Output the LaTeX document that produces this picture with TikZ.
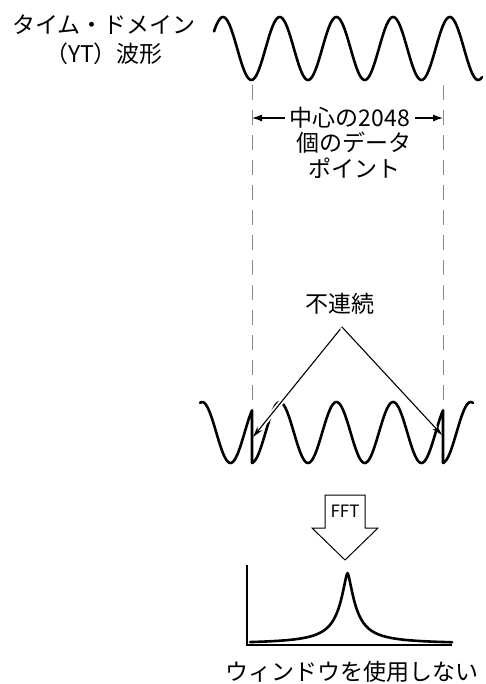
\documentclass[tikz,border=0pt]{standalone}
\usepackage{fontspec}
\setmainfont{Noto Sans CJK JP}
\usepackage{tikz}
\usetikzlibrary{arrows.meta, positioning, calc}
\definecolor{guidegray}{HTML}{8a8a8a}

\begin{document}
\begin{tikzpicture}[
    x=1pt, y=-1pt,
    declare function={
        top(\t)=48.5-31.5*cos((\t-223)*6.3492);
        low(\t)=432.5-30.5*cos((\t-223)*6.3492);
        peak(\t)=644-71/(1+(abs(\t-347.5)/9)*sqrt(abs(\t-347.5)/9));
    },
    label/.style={font=\fontsize{23}{27}\selectfont, inner sep=2pt, align=center},
    wave/.style={line width=2.6pt, line join=round, line cap=round},
    guide/.style={draw=guidegray, line width=1pt, dash pattern=on 15pt off 10pt},
    dimarrow/.style={-{Latex[length=10pt, width=7pt]}, line width=1.2pt},
    pointer/.style={-{Stealth[length=11pt, width=6pt]}, line width=1.1pt,
                    preaction={draw=white, line width=5pt, -, shorten >=9pt}},
    axis/.style={line width=1.5pt},
]
    \useasboundingbox (0,0) rectangle (486,684);

    % time-domain record
    \node[label, font=\fontsize{23}{29}\selectfont] (ytlabel) at (104,40)
        {タイム・ドメイン\\（YT）波形};
    \draw[wave] plot[domain=214:482, samples=200] (\x, {top(\x)});

    % edges of the 2048-point window
    \coordinate (gltop) at (252,85);
    \coordinate (glbot) at (252,400);
    \coordinate (grtop) at (443,85);
    \coordinate (grbot) at (443,400);
    \draw[guide] (gltop) -- (glbot);
    \draw[guide] (grtop) -- (grbot);

    \node[label, inner xsep=5pt] (num) at (350,118) {中心の2048};
    \node[label, font=\fontsize{23}{26}\selectfont] (pts) at (354,155) {個のデータ\\ポイント};
    \draw[dimarrow] (num.west) -- (num.west -| gltop);
    \draw[dimarrow] (num.east) -- (num.east -| grtop);

    % repeated record with jumps at the window edges
    \draw[wave] plot[domain=200:252, samples=40] (\x, {low(\x+191)})
        -- plot[domain=252:443, samples=150] (\x, {low(\x)})
        -- plot[domain=443:473, samples=25] (\x, {low(\x-191)});

    \node[label] (disc) at (340,304) {不連続};
    \coordinate (apex) at (342,327);
    \coordinate (ltip) at (253,437);
    \coordinate (rtip) at (442,435);
    \draw[pointer] (apex) -- (ltip);
    \draw[pointer] (apex) -- (rtip);

    % FFT block arrow
    \draw[line width=1pt, line join=miter]
        (325,495) -- (365,495) -- (365,528) -- (378,528) -- (345,560)
        -- (312,528) -- (325,528) -- cycle;
    \node[font=\fontsize{17}{20}\selectfont, inner sep=1pt] (fft) at (345,511) {FFT};

    % spectrum
    \draw[axis] (247,565) -- (247,645) -- (452,645);
    \draw[wave] plot[domain=250:452, samples=301] (\x, {peak(\x)});

    \node[label] (nowin) at (352,672) {ウィンドウを使用しない};
\end{tikzpicture}
\end{document}
